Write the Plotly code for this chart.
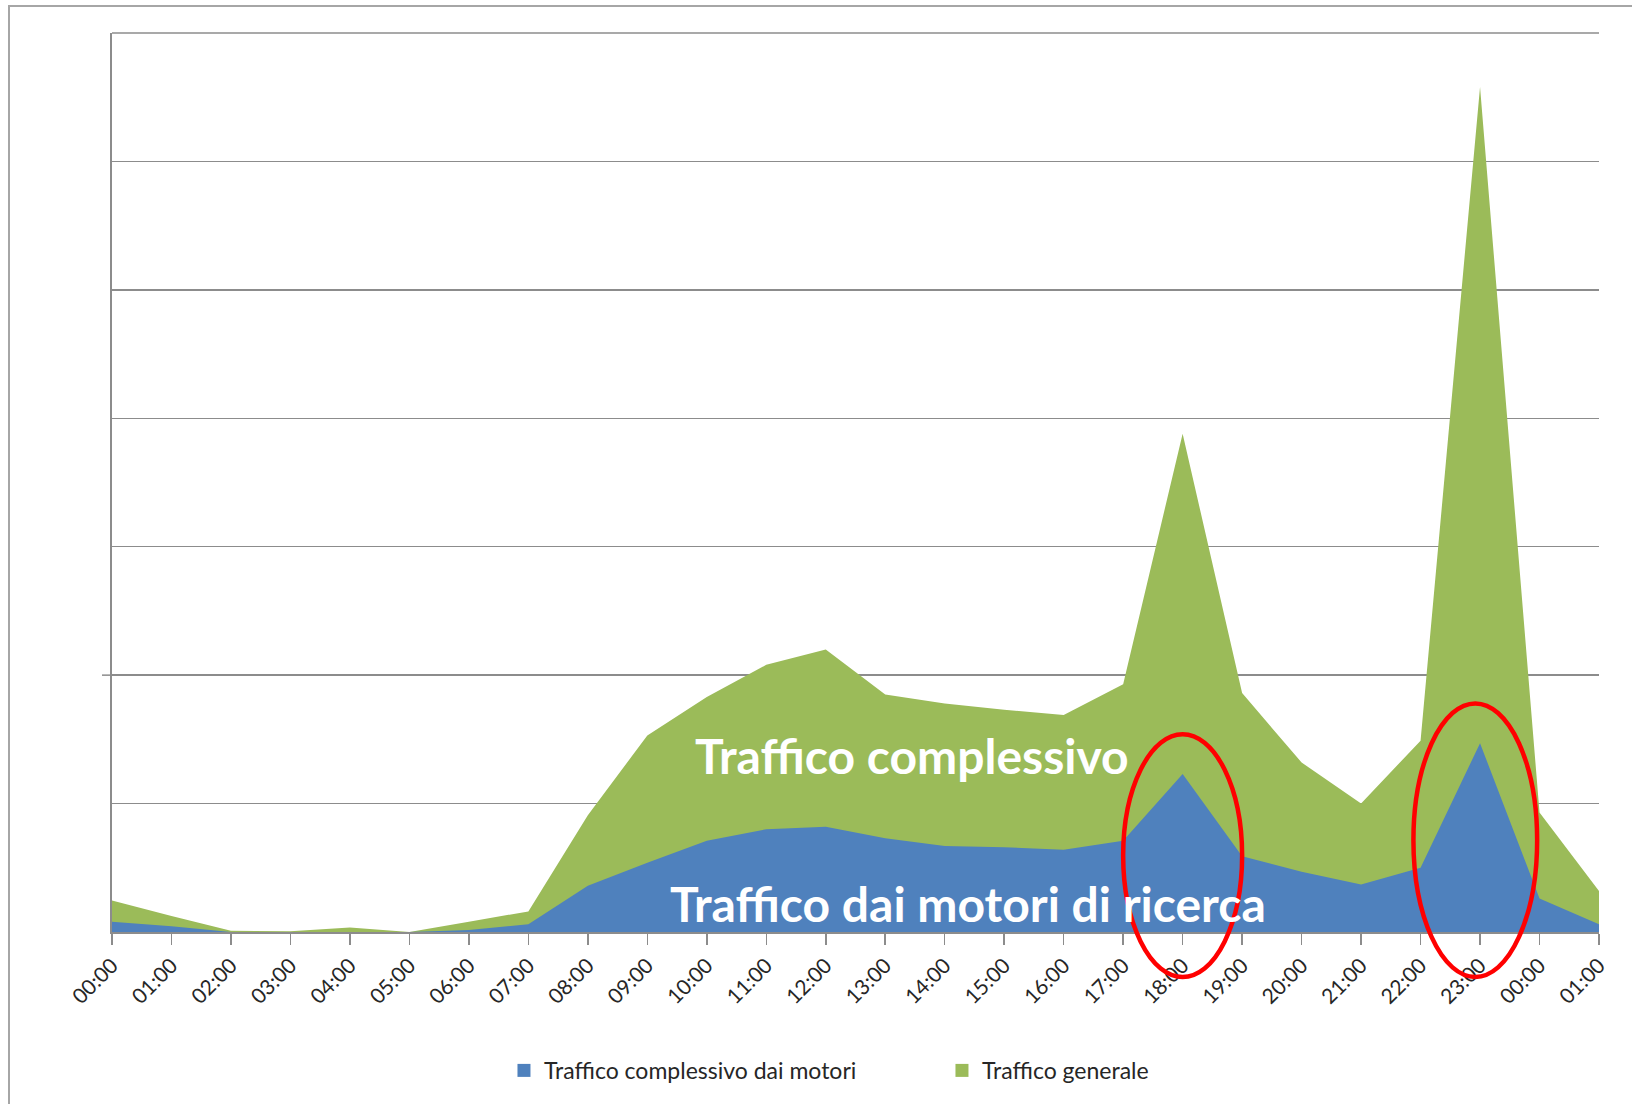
import plotly.graph_objects as go

# ---- data ----
hours = ["00:00", "01:00", "02:00", "03:00", "04:00", "05:00", "06:00", "07:00", "08:00",
         "09:00", "10:00", "11:00", "12:00", "13:00", "14:00", "15:00", "16:00", "17:00",
         "18:00", "19:00", "20:00", "21:00", "22:00", "23:00", "00:00", "01:00"]
traffico_generale = [0.245, 0.125, 0.01, 0.005, 0.035, 0.0, 0.08, 0.16, 0.91, 1.53, 1.83, 2.08,
                     2.20, 1.85, 1.78, 1.73, 1.69, 1.93, 3.88, 1.86, 1.32, 1.00, 1.49, 6.58,
                     0.93, 0.32]
traffico_motori = [0.08, 0.045, 0.0, 0.0, 0.0, 0.0, 0.015, 0.06, 0.36, 0.54, 0.71, 0.80, 0.82,
                   0.73, 0.67, 0.66, 0.64, 0.71, 1.23, 0.59, 0.47, 0.37, 0.50, 1.47, 0.26, 0.06]
series_names = ["Traffico complessivo dai motori", "Traffico generale"]
y_max = 7
# highlighted peaks: (category index, half width in categories, y bottom, y top)
highlights = [(18, 1.0, -0.35, 1.54), (22.92, 1.04, -0.35, 1.78)]

BLUE = "#4F81BD"
GREEN = "#9BBB59"
GRID = "#8c8c8c"

xs = list(range(len(hours)))
n = len(hours) - 1
PLOT_W, PLOT_H = 1487, 899

fig = go.Figure()
fig.add_trace(go.Scatter(x=xs, y=traffico_generale, mode="none", fill="tozeroy",
                         fillcolor=GREEN, showlegend=False, hoverinfo="skip"))
fig.add_trace(go.Scatter(x=xs, y=traffico_motori, mode="none", fill="tozeroy",
                         fillcolor=BLUE, showlegend=False, hoverinfo="skip"))
# legend entries
for name, col in zip(series_names, [BLUE, GREEN]):
    fig.add_trace(go.Scatter(x=[None], y=[None], mode="markers", name=name,
                             marker=dict(symbol="square", size=13, color=col)))

shapes = []
for cx, hw, yb, yt in highlights:
    shapes.append(dict(type="circle", xref="paper", yref="paper",
                       x0=(cx - hw) / n, x1=(cx + hw) / n, y0=yb / y_max, y1=yt / y_max,
                       line=dict(color="#FF0000", width=4.5), layer="above"))
# top grid line
shapes.append(dict(type="line", xref="paper", yref="paper", x0=0, x1=1, y0=1, y1=1,
                   line=dict(color=GRID, width=1.5), layer="below"))
# small extra tick on the y axis at value 2
shapes.append(dict(type="line", xref="paper", yref="paper", x0=-10 / PLOT_W, x1=0,
                   y0=2 / y_max, y1=2 / y_max, line=dict(color=GRID, width=1.5)))
# outer chart border
shapes.append(dict(type="rect", xref="paper", yref="paper", x0=-103 / PLOT_W, x1=1.1,
                   y0=-0.3, y1=(PLOT_H + 27) / PLOT_H, line=dict(color="#a6a6a6", width=2),
                   fillcolor="rgba(0,0,0,0)", layer="below"))

annotations = [
    dict(x=13.45, y=1.376, xref="x", yref="y", text="<b>Traffico complessivo</b>",
         showarrow=False, font=dict(family="Lato", size=48, color="white")),
    dict(x=14.39, y=0.222, xref="x", yref="y", text="<b>Traffico dai motori di ricerca</b>",
         showarrow=False, font=dict(family="Lato", size=48, color="white")),
]

fig.update_layout(
    width=1632, height=1104,
    margin=dict(l=112, r=33, t=33, b=172),
    paper_bgcolor="white", plot_bgcolor="white",
    font=dict(family="Lato", color="#262626"),
    shapes=shapes, annotations=annotations,
    legend=dict(orientation="h", x=0.2636, y=-0.154, xanchor="left", yanchor="middle",
                font=dict(family="Lato", size=23, color="#262626"),
                entrywidth=393, entrywidthmode="pixels", itemwidth=30),
    xaxis=dict(range=[0, n], tickmode="array", tickvals=xs, ticktext=hours,
               tickangle=-45, tickfont=dict(family="Lato", size=21, color="#262626"),
               showgrid=False, zeroline=False, showline=True, linecolor=GRID, linewidth=2,
               ticks="outside", ticklen=11, tickwidth=1.5, tickcolor=GRID),
    yaxis=dict(range=[0, y_max], dtick=1, showticklabels=False, showgrid=True,
               gridcolor=GRID, gridwidth=1.5, zeroline=False, showline=True,
               linecolor=GRID, linewidth=2, ticks=""),
)

fig.write_html("out.html", config={"displayModeBar": False, "staticPlot": True},
               post_script="document.body.style.margin='0';document.body.style.overflow='hidden';")
